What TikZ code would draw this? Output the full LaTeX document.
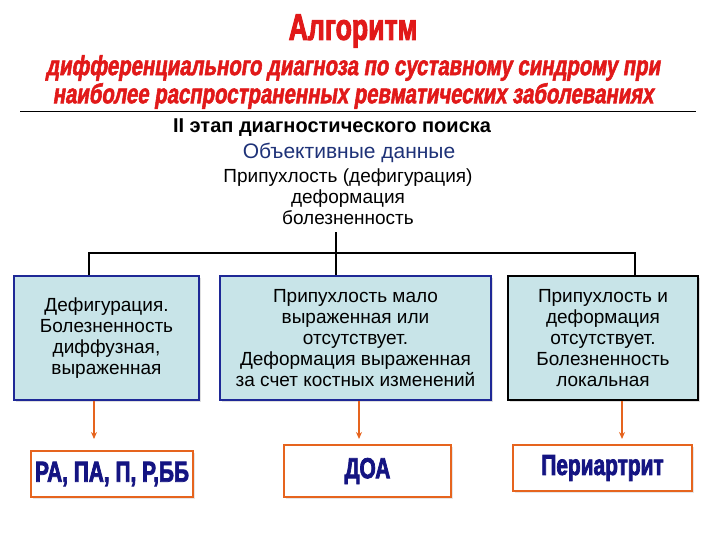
\documentclass[tikz,border=0pt]{standalone}
\usepackage{fontspec}
\setmainfont{Liberation Sans}
\newfontfamily\condf[FakeStretch=0.72,FakeBold=2.5]{Liberation Sans Bold}
\newfontfamily\condi[FakeStretch=0.74,FakeBold=2,FakeSlant=0.15]{Liberation Sans Bold}
\usetikzlibrary{arrows.meta,shadows}
\definecolor{tred}{RGB}{225,25,25}
\definecolor{boxfill}{RGB}{200,228,232}
\definecolor{boxline}{RGB}{30,40,150}
\definecolor{navy}{RGB}{20,20,130}
\definecolor{orng}{RGB}{230,100,30}
\definecolor{objblue}{RGB}{30,50,120}
\tikzset{x=1pt,y=-1pt,
 ttl/.style={font=\condf\fontsize{37}{38}\selectfont, text=tred},
 sub/.style={font=\condi\fontsize{27.5}{28}\selectfont, text=tred},
 hdr/.style={font=\fontsize{19}{20}\selectfont, align=center},
 topbox/.style={draw=boxline, line width=1.5pt, fill=boxfill, align=center, font=\fontsize{19}{21}\selectfont, inner sep=0pt, drop shadow={shadow xshift=2pt,shadow yshift=-2pt,opacity=0.25}},
 botbox/.style={draw=orng, line width=1.8pt, fill=white, font=\condf\fontsize{29}{30}\selectfont, text=navy, inner sep=0pt, drop shadow={shadow xshift=2pt,shadow yshift=-2pt,opacity=0.2}},
 arr/.style={draw=orng, line width=1.6pt, -{Stealth[length=7pt,width=6pt]}},
 tree/.style={line width=1.4pt}}
\begin{document}
\begin{tikzpicture}
\useasboundingbox (0,0) rectangle (720,540);
\node[ttl] (t1) at (353,31) {Алгоритм};
\node[sub] (t2) at (353,68) {дифференциального диагноза по суставному синдрому при};
\node[sub] (t3) at (353,96) {наиболее распространенных ревматических заболеваниях};
\coordinate (la) at (20,111); \coordinate (lb) at (696,111);
\draw[line width=0.8pt] (la) -- (lb);
\node[hdr, font=\bfseries\fontsize{20}{20}\selectfont] (h1) at (332,128) {II этап диагностического поиска};
\node[hdr, text=objblue, font=\fontsize{21}{22}\selectfont] (h2) at (349,153) {Объективные данные};
\node[hdr, font=\fontsize{19}{21}\selectfont] (h3) at (348,197) {Припухлость (дефигурация)\\деформация\\болезненность};
\node[topbox, minimum width=185pt, minimum height=124pt] (b1) at (106.5,338) {Дефигурация.\\Болезненность\\диффузная,\\выраженная};
\node[topbox, minimum width=271pt, minimum height=124pt] (b2) at (355.5,338) {Припухлость мало\\выраженная или\\отсутствует.\\Деформация выраженная\\за счет костных изменений};
\node[topbox, draw=black, line width=2.5pt, minimum width=190pt, minimum height=124pt] (b3) at (603,338) {Припухлость и\\деформация\\отсутствует.\\Болезненность\\локальная};
\coordinate (top) at (336,232);
\coordinate (jn) at (336,253);
\coordinate (j1) at (89,253); \coordinate (j3) at (635,253);
\draw[tree] (top) -- (jn |- b2.north);
\draw[tree] (j1 |- b1.north) -- (j1) -- (j3) -- (j3 |- b3.north);
\node[botbox, minimum width=162pt, minimum height=46pt] (c1) at (112,474) {РА, ПА, П, Р,ББ};
\node[botbox, minimum width=167pt, minimum height=52pt] (c2) at (367.5,471) {ДОА};
\node[botbox, minimum width=179pt, minimum height=46pt] (c3) at (602.5,468) {Периартрит};
\draw[arr] (b1.south -| 94,0) -- (94,439);
\draw[arr] (b2.south -| 359,0) -- (359,439);
\draw[arr] (b3.south -| 622,0) -- (622,439);
\end{tikzpicture}
\end{document}
